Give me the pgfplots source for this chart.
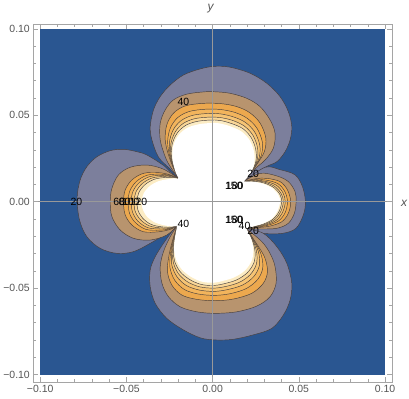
\documentclass[border=0pt]{standalone}
\usepackage{fontspec}
\setmainfont{Liberation Sans}
\usepackage{pgfplots}
\pgfplotsset{compat=1.18}
\definecolor{cBlue}{RGB}{42,86,145}
\definecolor{cGray}{RGB}{124,127,156}
\definecolor{cTan}{RGB}{184,148,110}
\definecolor{cOa}{RGB}{236,168,78}
\definecolor{cOb}{RGB}{242,180,92}
\definecolor{cOc}{RGB}{246,196,116}
\definecolor{cOd}{RGB}{249,214,150}
\definecolor{cOe}{RGB}{252,236,196}
\definecolor{cLine}{RGB}{70,62,60}
\definecolor{cFrame}{RGB}{165,165,165}
\definecolor{cTick}{RGB}{85,85,85}
\pgfplotsset{
 lobe/.style={smooth, tension=0.55, fill=#1, draw=cLine, line width=0.45bp, line join=round},
 wlobe/.style={smooth, tension=0.55, fill=white, draw=none},
 quad/.style={fill=#1, draw=none},
}
\begin{document}
\begin{tikzpicture}
\begin{axis}[
 scale only axis, width=359bp, height=358bp,
 xmin=-104, xmax=104.2, ymin=-104.3, ymax=102.8,
 clip=false,
 axis on top,
 axis line style={cFrame, line width=0.8bp},
 xtick={-100,-50,0,50,100}, ytick={-100,-50,0,50,100},
 xticklabels={−0.10,−0.05,0.00,0.05,0.10},
 yticklabels={−0.10,−0.05,0.00,0.05,0.10},
 minor xtick={-90,-80,...,90}, minor ytick={-90,-80,...,90},
 tick align=inside,
 major tick length=5bp, minor tick length=3bp,
 every tick/.style={cFrame, line width=0.6bp},
 tick label style={font=\fontsize{10.5}{12}\selectfont, text=cTick},
]
% background
\addplot[fill=cBlue, draw=none] coordinates {(-100,-100) (100,-100) (100,100) (-100,100)} -- cycle;

% ---------- level 20 ----------
\addplot[lobe=cGray] coordinates {(-19.5,13.2) (-24.6,18.8) (-31.4,25.8) (-35.2,35.7) (-36.2,43.4) (-34.3,53.1) (-30.4,60.8) (-24.6,67.5) (-16.9,73.3) (-7.2,76.8) (1.0,78.3) (10.1,77.8) (21.7,74.3) (31.4,68.5) (39.1,60.8) (43.9,52.1) (45.9,43.4) (44.9,35.7) (42.0,28.9) (37.2,23.1) (30.4,19.9) (17.9,11.6)} -- cycle;
\addplot[lobe=cGray] coordinates {(17.9,11.6) (30.4,19.9) (39.1,18.5) (47.8,15.5) (52.1,8.7) (53.8,0) (52.6,-7.7) (48.3,-15.4) (40.6,-18.3) (29.4,-18.3) (19.5,-15.5)} -- cycle;
\addplot[lobe=cGray] coordinates {(19.5,-15.5) (29.4,-18.3) (37.2,-26.0) (43.0,-35.6) (45.9,-47.2) (44.9,-56.9) (41.0,-65.6) (34.3,-73.3) (23.7,-77.0) (12.0,-79.6) (2.0,-80.0) (-7.0,-78.8) (-16.9,-74.2) (-26.6,-67.5) (-33.3,-58.8) (-36.2,-49.2) (-36.2,-39.5) (-33.3,-31.8) (-28.5,-24.1) (-23.7,-17.4) (-20.5,-13.8)} -- cycle;
\addplot[lobe=cGray] coordinates {(-20.5,-13.8) (-26.6,-18.3) (-36.2,-24.1) (-45.9,-28.9) (-55.5,-29.9) (-65.2,-27.0) (-72.9,-20.3) (-77.2,-10.6) (-78.6,2.0) (-76.8,12.6) (-72.9,20.3) (-67.1,26.0) (-59.4,29.5) (-51.7,30.3) (-43.9,28.9) (-38.1,27.0) (-28.5,21.0) (-24.5,17.2) (-19.5,13.2)} -- cycle;
\addplot[quad=cGray] coordinates {(-19.5,13.2) (17.9,11.6) (19.5,-15.5) (-20.5,-13.8)} -- cycle;

% ---------- level 40 ----------
\addplot[lobe=cTan] coordinates {(-19.5,13.2) (-24.6,20.3) (-27.5,26.0) (-30.4,35.7) (-30.4,45.4) (-27.5,53.1) (-22.7,58.9) (-15.0,62.2) (-5.3,63.5) (1.0,63.6) (10.1,62.7) (19.8,59.8) (27.5,55.0) (33.3,47.3) (36.2,39.6) (35.2,30.9) (30.4,24.1) (23.7,18.3) (17.9,11.6)} -- cycle;
\addplot[lobe=cTan] coordinates {(17.9,11.6) (27.5,16.4) (37.2,14.9) (43.9,11.6) (47.8,5.8) (48.4,0) (47.4,-6.7) (43.9,-12.5) (37.2,-15.4) (27.5,-15.8) (19.5,-15.5)} -- cycle;
\addplot[lobe=cTan] coordinates {(19.5,-15.5) (28.5,-23.1) (33.3,-29.9) (36.2,-37.6) (36.8,-47.2) (33.3,-55.0) (25.6,-60.4) (14.0,-63.7) (1.4,-64.6) (-9.2,-63.7) (-18.8,-60.8) (-25.6,-55.0) (-29.4,-47.2) (-30.4,-37.6) (-28.5,-28.9) (-24.6,-20.3) (-20.5,-13.8)} -- cycle;
\addplot[lobe=cTan] coordinates {(-20.5,-13.8) (-26.6,-19.3) (-36.2,-22.2) (-45.9,-21.2) (-53.6,-16.4) (-58.4,-8.7) (-59.4,0) (-58.4,7.8) (-54.6,15.5) (-47.8,19.9) (-38.1,21.2) (-28.5,18.8) (-19.5,13.2)} -- cycle;
\addplot[quad=cTan] coordinates {(-19.5,13.2) (17.9,11.6) (19.5,-15.5) (-20.5,-13.8)} -- cycle;

% ---------- level 60 ----------
\addplot[lobe=cOa] coordinates {(-19.5,13.2) (-22.5,19.0) (-25.6,27.0) (-27.5,35.7) (-26.6,44.4) (-22.7,51.2) (-15.9,55.4) (-5.3,56.9) (5.0,56.7) (14.0,55.0) (21.5,51.5) (27.5,45.5) (30.8,37.0) (30.0,29.0) (25.5,21.5) (17.9,11.6)} -- cycle;
\addplot[lobe=cOa] coordinates {(17.9,11.6) (25.0,13.3) (31.4,13.5) (39.1,11.6) (43.4,6.8) (45.3,0) (43.9,-6.7) (40.1,-11.6) (33.3,-14.1) (26.0,-15.0) (19.5,-15.5)} -- cycle;
\addplot[lobe=cOa] coordinates {(19.5,-15.5) (26.6,-26.0) (30.4,-32.8) (31.8,-40.5) (29.4,-47.2) (22.7,-53.0) (12.1,-56.3) (1.4,-57.3) (-9.2,-56.5) (-17.9,-54.0) (-23.7,-48.2) (-26.2,-40.5) (-25.6,-32.8) (-23.7,-24.1) (-20.5,-13.8)} -- cycle;
\addplot[lobe=cOa] coordinates {(-20.5,-13.8) (-24.6,-16.0) (-31.4,-17.4) (-40.1,-17.4) (-46.8,-13.5) (-50.7,-7.7) (-51.7,0) (-50.7,6.8) (-46.8,12.6) (-40.1,16.4) (-31.4,16.8) (-24.6,15.5) (-19.5,13.2)} -- cycle;
\addplot[quad=cOa] coordinates {(-19.5,13.2) (17.9,11.6) (19.5,-15.5) (-20.5,-13.8)} -- cycle;

% ---------- level 80 ----------
\addplot[lobe=cOb] coordinates {(-19.5,13.2) (-22.2,18.6) (-24.9,26.4) (-26.1,34.7) (-24.5,42.7) (-20.2,48.7) (-13.5,52.2) (-4.0,53.5) (4.7,53.3) (13.0,51.6) (20.1,48.2) (25.7,42.5) (28.8,34.6) (28.3,27.1) (24.5,20.0) (17.9,11.6)} -- cycle;
\addplot[lobe=cOb] coordinates {(17.9,11.6) (24.6,12.8) (30.8,12.5) (37.9,10.4) (41.9,5.8) (43.4,0) (42.1,-6.2) (38.4,-11.0) (32.2,-13.6) (25.4,-14.8) (19.5,-15.5)} -- cycle;
\addplot[lobe=cOb] coordinates {(19.5,-15.5) (25.4,-24.8) (28.4,-31.5) (29.0,-38.7) (26.1,-45.0) (19.6,-50.2) (10.3,-53.2) (1.1,-54.2) (-8.4,-53.4) (-16.4,-50.8) (-22.0,-45.4) (-24.7,-38.4) (-24.6,-31.4) (-23.2,-23.3) (-20.5,-13.8)} -- cycle;
\addplot[lobe=cOb] coordinates {(-20.5,-13.8) (-24.3,-15.6) (-30.7,-16.5) (-38.7,-16.0) (-44.8,-12.1) (-48.2,-6.7) (-49.0,0.1) (-48.0,6.3) (-44.2,11.7) (-38.0,15.3) (-30.1,15.9) (-24.0,15.0) (-19.5,13.2)} -- cycle;
\addplot[quad=cOb] coordinates {(-19.5,13.2) (17.9,11.6) (19.5,-15.5) (-20.5,-13.8)} -- cycle;

% ---------- level 100 ----------
\addplot[lobe=cOc] coordinates {(-19.5,13.2) (-22.0,18.2) (-24.4,26.0) (-25.1,34.0) (-22.9,41.5) (-18.4,46.8) (-11.8,49.9) (-3.1,51.0) (4.5,50.8) (12.2,49.0) (19.1,45.8) (24.4,40.3) (27.3,32.8) (27.0,25.6) (23.7,18.9) (17.9,11.6)} -- cycle;
\addplot[lobe=cOc] coordinates {(17.9,11.6) (24.2,12.4) (30.4,11.8) (37.0,9.5) (40.8,5.1) (42.1,0) (40.7,-5.8) (37.2,-10.6) (31.3,-13.3) (25.0,-14.6) (19.5,-15.5)} -- cycle;
\addplot[lobe=cOc] coordinates {(19.5,-15.5) (24.5,-23.9) (26.9,-30.6) (27.0,-37.4) (23.7,-43.5) (17.4,-48.2) (8.9,-50.8) (0.9,-51.9) (-7.8,-51.1) (-15.4,-48.4) (-20.7,-43.4) (-23.6,-36.9) (-23.9,-30.3) (-22.8,-22.8) (-20.5,-13.8)} -- cycle;
\addplot[lobe=cOc] coordinates {(-20.5,-13.8) (-24.1,-15.3) (-30.2,-15.8) (-37.7,-15.0) (-43.4,-11.2) (-46.5,-5.9) (-47.2,0.2) (-46.2,6.0) (-42.5,11.1) (-36.5,14.5) (-29.1,15.2) (-23.5,14.7) (-19.5,13.2)} -- cycle;
\addplot[quad=cOc] coordinates {(-19.5,13.2) (17.9,11.6) (19.5,-15.5) (-20.5,-13.8)} -- cycle;

% ---------- level 120 ----------
\addplot[lobe=cOd] coordinates {(-19.5,13.2) (-21.9,18.0) (-24.0,25.6) (-24.2,33.5) (-21.6,40.5) (-17.0,45.3) (-10.4,48.0) (-2.3,48.9) (4.3,48.7) (11.6,47.0) (18.3,43.8) (23.3,38.5) (26.0,31.4) (25.9,24.5) (23.1,18.0) (17.9,11.6)} -- cycle;
\addplot[lobe=cOd] coordinates {(17.9,11.6) (24.0,12.0) (30.1,11.3) (36.2,8.7) (39.8,4.5) (41.0,0) (39.6,-5.5) (36.2,-10.2) (30.6,-13.0) (24.6,-14.4) (19.5,-15.5)} -- cycle;
\addplot[lobe=cOd] coordinates {(19.5,-15.5) (23.7,-23.2) (25.6,-29.8) (25.3,-36.3) (21.8,-42.2) (15.6,-46.6) (7.8,-49.0) (0.8,-50.0) (-7.3,-49.3) (-14.5,-46.4) (-19.7,-41.8) (-22.7,-35.6) (-23.3,-29.4) (-22.4,-22.3) (-20.5,-13.8)} -- cycle;
\addplot[lobe=cOd] coordinates {(-20.5,-13.8) (-24.0,-15.0) (-29.7,-15.2) (-36.7,-14.0) (-42.0,-10.3) (-45.0,-5.3) (-45.5,0.3) (-44.5,5.6) (-40.8,10.5) (-35.1,13.7) (-28.3,14.6) (-23.1,14.3) (-19.5,13.2)} -- cycle;
\addplot[quad=cOd] coordinates {(-19.5,13.2) (17.9,11.6) (19.5,-15.5) (-20.5,-13.8)} -- cycle;

% ---------- level 140 ----------
\addplot[lobe=cOe] coordinates {(-19.5,13.2) (-21.7,17.7) (-23.7,25.3) (-23.5,33.0) (-20.6,39.6) (-15.7,44.1) (-9.2,46.4) (-1.7,47.2) (4.2,47.0) (11.0,45.2) (17.6,42.2) (22.4,37.0) (25.0,30.2) (25.1,23.5) (22.5,17.3) (17.9,11.6)} -- cycle;
\addplot[lobe=cOe] coordinates {(17.9,11.6) (23.7,11.8) (29.8,10.8) (35.6,8.1) (39.1,4.0) (40.0,0) (38.7,-5.3) (35.3,-9.9) (30.1,-12.7) (24.3,-14.3) (19.5,-15.5)} -- cycle;
\addplot[lobe=cOe] coordinates {(19.5,-15.5) (23.1,-22.6) (24.6,-29.2) (23.9,-35.4) (20.1,-41.1) (14.0,-45.2) (6.9,-47.4) (0.6,-48.5) (-6.9,-47.8) (-13.7,-44.8) (-18.9,-40.4) (-22.0,-34.6) (-22.8,-28.7) (-22.2,-21.9) (-20.5,-13.8)} -- cycle;
\addplot[lobe=cOe] coordinates {(-20.5,-13.8) (-23.8,-14.7) (-29.3,-14.6) (-35.8,-13.1) (-40.7,-9.4) (-43.4,-4.6) (-43.8,0.4) (-42.8,5.3) (-39.2,9.9) (-33.7,13.0) (-27.4,14.0) (-22.7,14.0) (-19.5,13.2)} -- cycle;
\addplot[quad=cOe] coordinates {(-19.5,13.2) (17.9,11.6) (19.5,-15.5) (-20.5,-13.8)} -- cycle;

% ---------- white (above 160) ----------
\addplot[wlobe] coordinates {(-19.5,13.2) (-21.6,17.5) (-23.3,25.0) (-22.8,32.5) (-19.5,38.8) (-14.5,42.8) (-8.0,44.8) (-1.0,45.5) (4.0,45.3) (10.5,43.5) (16.9,40.5) (21.5,35.5) (24.0,29.0) (24.2,22.5) (22.0,16.5) (17.9,11.6)} -- cycle;
\addplot[wlobe] coordinates {(17.9,11.6) (23.5,11.5) (29.5,10.3) (35.0,7.5) (38.3,3.5) (39.1,0) (37.8,-5.0) (34.5,-9.6) (29.5,-12.5) (24.0,-14.2) (19.5,-15.5)} -- cycle;
\addplot[wlobe] coordinates {(19.5,-15.5) (22.5,-22.0) (23.6,-28.5) (22.5,-34.5) (18.5,-40.0) (12.5,-43.8) (6.0,-45.8) (0.5,-46.9) (-6.5,-46.2) (-13.0,-43.2) (-18.0,-39.0) (-21.2,-33.5) (-22.3,-28.0) (-21.9,-21.5) (-20.5,-13.8)} -- cycle;
\addplot[wlobe] coordinates {(-20.5,-13.8) (-23.5,-14.3) (-28.5,-13.6) (-34.3,-11.6) (-38.6,-8.0) (-40.8,-3.5) (-41.0,0.5) (-40.0,4.8) (-36.5,9.0) (-31.5,11.8) (-26.0,13.0) (-22.0,13.5) (-19.5,13.2)} -- cycle;
\addplot[fill=white, draw=white, line width=1.8bp] coordinates {(-19.5,13.2) (17.9,11.6) (19.5,-15.5) (-20.5,-13.8)} -- cycle;

% axes through the origin
\addplot[color=black!40, line width=0.5bp] coordinates {(-104,0) (104.2,0)};
\addplot[color=black!40, line width=0.5bp] coordinates {(0,-104.3) (0,102.8)};

% contour labels
\begin{scope}[every node/.style={font=\fontsize{10.5}{12}\selectfont, inner sep=0pt, text=black}]
\node at (axis cs:-16.9,58.0) {40};
\node at (axis cs:-79.0,0) {20};
\node at (axis cs:-54.2,0) {60};
\node at (axis cs:-51.0,0) {80};
\node at (axis cs:-47.5,0) {100};
\node at (axis cs:-43.0,0) {120};
\node at (axis cs:-17.0,-12.8) {40};
\node at (axis cs:23.5,16.0) {20};
\node at (axis cs:12.3,9.2) {150};
\node at (axis cs:12.8,9.2) {180};
\node at (axis cs:12.3,-10.6) {150};
\node at (axis cs:12.8,-10.6) {180};
\node at (axis cs:18.5,-13.8) {40};
\node at (axis cs:23.5,-17.0) {20};
\end{scope}

% axis names
\node[font=\itshape\fontsize{12}{14}\selectfont, text=cTick] at (rel axis cs:1.033,0.5) {x};
\node[font=\itshape\fontsize{12}{14}\selectfont, text=cTick] at (rel axis cs:0.494,1.044) {y};

\coordinate (BBsw) at (rel axis cs:-0.0928,-0.0475);
\coordinate (BBne) at (rel axis cs:1.0465,1.067);
\end{axis}
\pgfresetboundingbox
\path[use as bounding box] (BBsw) rectangle (BBne);
\end{tikzpicture}
\end{document}
